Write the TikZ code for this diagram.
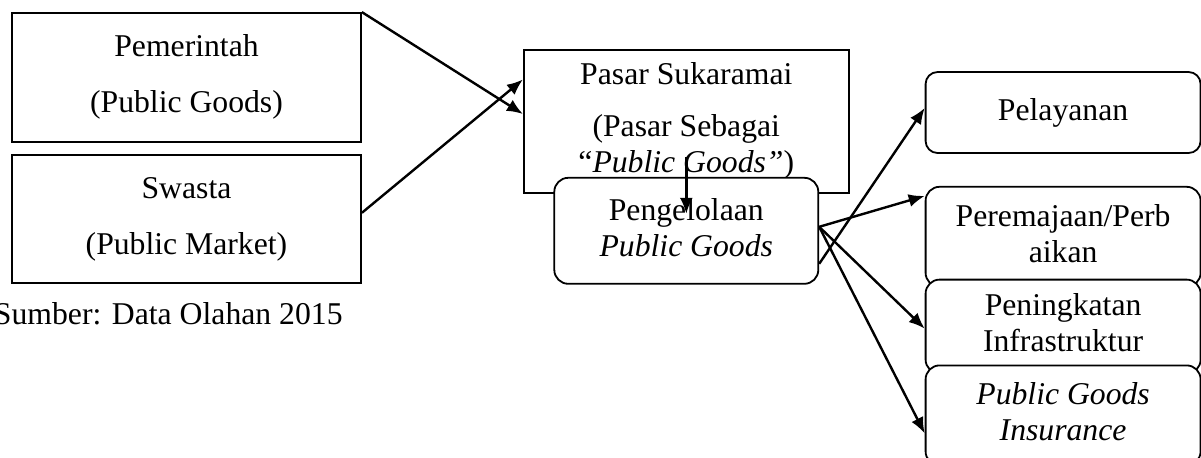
\documentclass[tikz,border=0pt]{standalone}
\usepackage{fontspec}
\setmainfont{Liberation Serif}
\usetikzlibrary{arrows.meta,positioning}

\begin{document}
\begin{tikzpicture}[-{Latex[length=8pt,width=6.5pt]}, line width=1.2pt, font=\fontsize{15.85}{18}\selectfont]
    \tikzstyle{box}=[draw, rectangle, line width=0.9pt, inner sep=0pt, fill=white, minimum width=174.5pt]
    \tikzstyle{rbox}=[box, rounded corners=7pt, minimum width=137.5pt]

    \useasboundingbox (0,0) rectangle (600.5pt,-228.5pt);

    \node[box, minimum height=64.5pt] (pemerintah) at (93.25pt,-38.75pt)
        {\begin{tabular}{c}Pemerintah\\[10pt](Public Goods)\end{tabular}};
    \node[box, minimum height=64pt] (swasta) [below=5.5pt of pemerintah]
        {\begin{tabular}{c}Swasta\\[10pt](Public Market)\end{tabular}};
    \node[box, minimum width=162.5pt, minimum height=71.5pt] (pasar)
        [below right=18.5pt and 80.5pt of pemerintah.north east]
        {\begin{tabular}{c}Pasar Sukaramai\\[8pt](Pasar Sebagai\\“\textit{Public Goods”})\end{tabular}};
    \node[rbox, minimum width=132pt, minimum height=53pt] (peng) [below=-8.5pt of pasar]
        {\begin{tabular}{c}Pengelolaan\\\textit{Public Goods}\end{tabular}};

    \node[rbox, rounded corners=6pt, minimum height=40.5pt] (pelayanan)
        [below right=11pt and 37.5pt of pasar.north east] {Pelayanan};
    \node[rbox, minimum height=50pt] (peremajaan) [below=16pt of pelayanan]
        {\begin{tabular}{c}Peremajaan/Perb\\aikan\end{tabular}};
    \node[rbox, minimum height=47pt] (peningkatan) [below=-4.5pt of peremajaan]
        {\begin{tabular}{c}Peningkatan\\Infrastruktur\end{tabular}};
    \node[rbox, minimum height=50pt] (insurance) [below=-5pt of peningkatan]
        {\begin{tabular}{c}\textit{Public Goods}\\\textit{Insurance}\end{tabular}};

    \node[anchor=base west] (sumber) at ([xshift=-12.5pt, yshift=-20.5pt]swasta.south west)
        {Sumber: Data Olahan 2015};

    \path
    (pemerintah.north east) edge ([yshift=3.75pt]pasar.west)
    ([yshift=3pt]swasta.east) edge ([yshift=21pt]pasar.west);

    \draw ([yshift=-17.75pt]pasar.center) -- ([yshift=8.5pt]peng.center);

    \path
    ([yshift=-16.5pt]peng.east) edge ([yshift=2.25pt]pelayanan.west)
    ([yshift=2pt]peng.east) edge ([yshift=-5pt]peremajaan.north west)
    ([yshift=2pt]peng.east) edge ([yshift=-1pt]peningkatan.west)
    ([yshift=2pt]peng.east) edge ([yshift=-9pt]insurance.west);

\end{tikzpicture}
\end{document}
